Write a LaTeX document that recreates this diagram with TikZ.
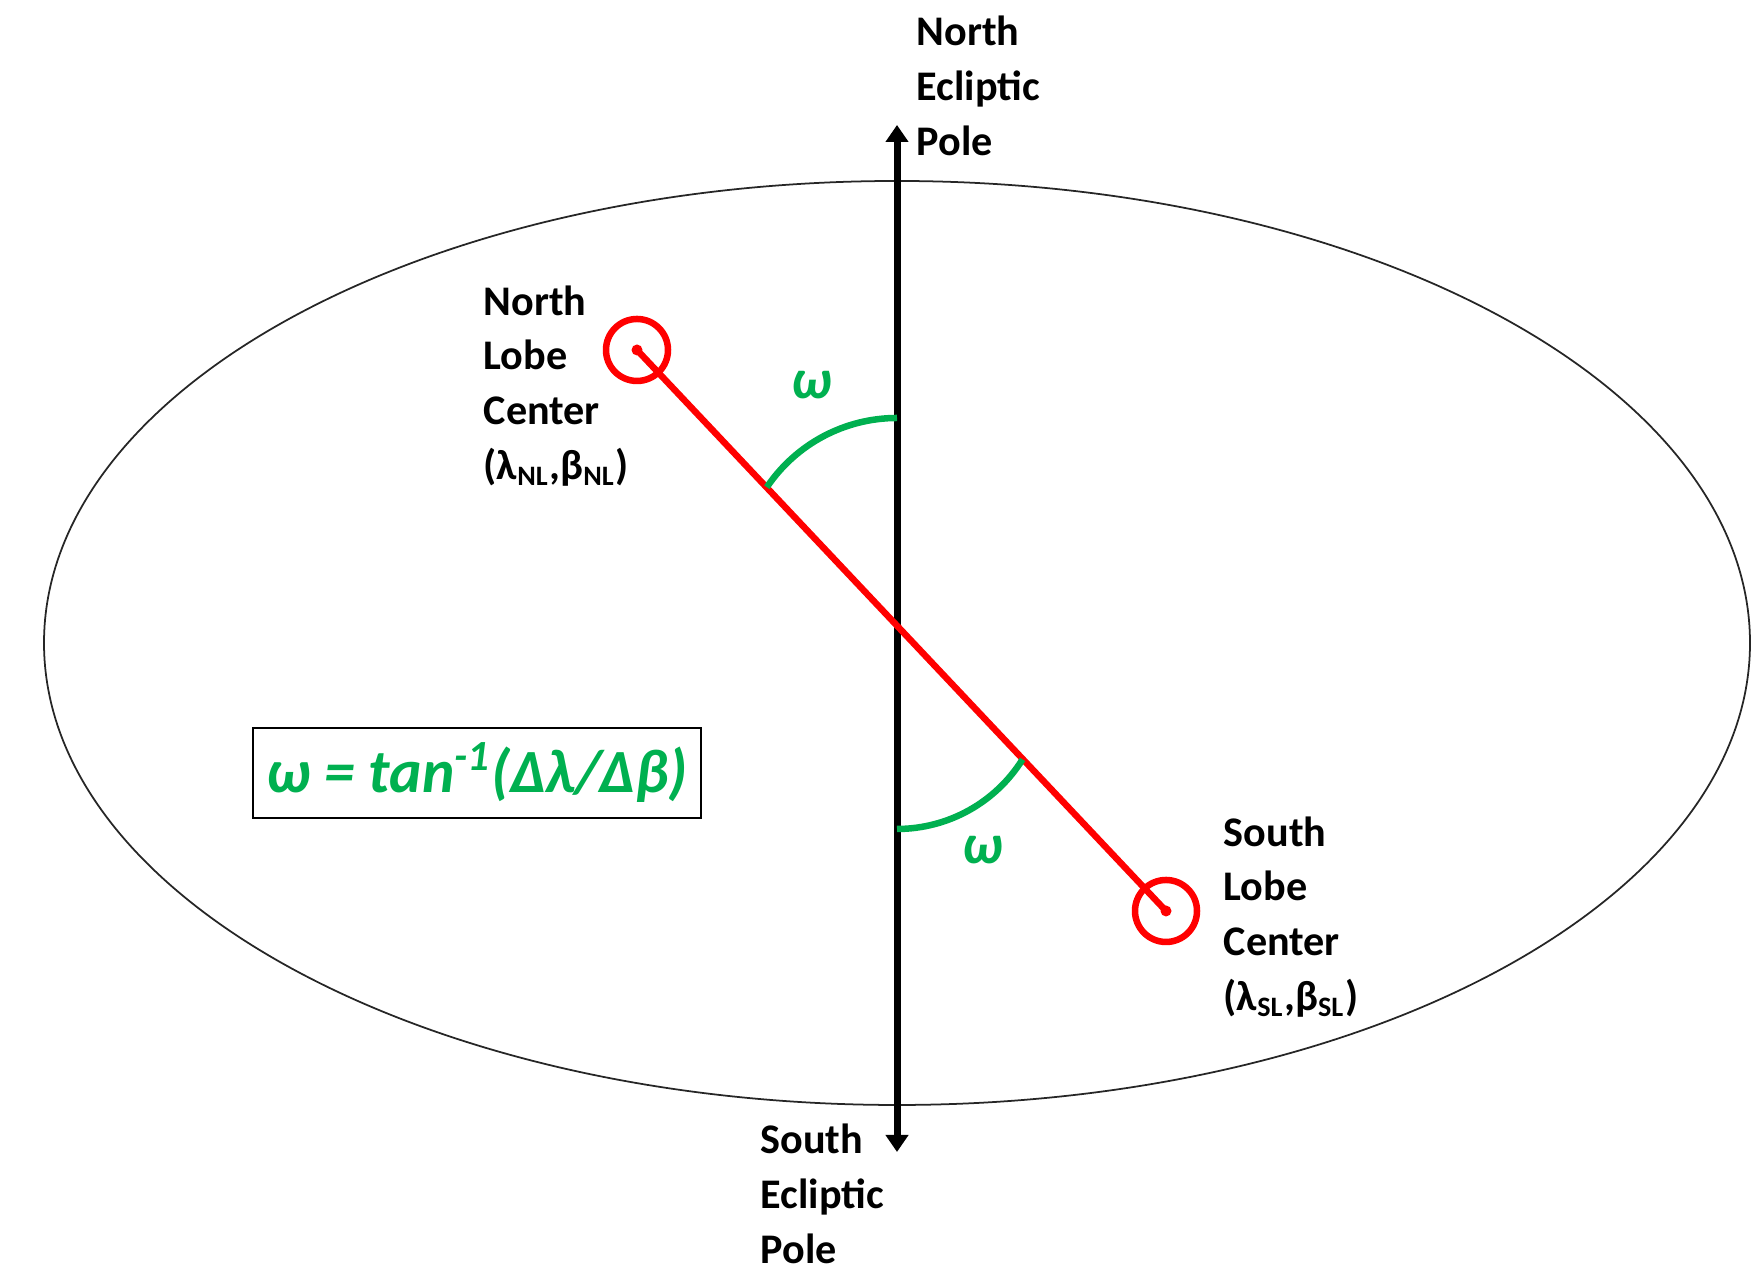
\documentclass[tikz,border=0pt]{standalone}
\usepackage{fontspec}
\setmainfont{Carlito}
\usepackage{xcolor}
\usepackage{tikz}
\usetikzlibrary{positioning, arrows.meta, calc}
\definecolor{lobeRed}{HTML}{FF0000}
\definecolor{omegaGreen}{HTML}{00B050}

\begin{document}
\begin{tikzpicture}[
    lbl/.style={font=\fontsize{12}{15.6}\selectfont\bfseries, align=left,
      inner sep=0pt, anchor=west},
    lobe/.style={draw=lobeRed, line width=0.065cm},
    ang/.style={draw=omegaGreen, line width=0.065cm},
    angtxt/.style={text=omegaGreen, font=\fontsize{16}{18}\selectfont\bfseries\itshape},
  ]
    \useasboundingbox (0,0) rectangle (17.52,12.80);
    % sky ellipse
    \draw[black!85, line width=0.5pt] (8.97,6.37)
      ellipse [x radius=8.53, y radius=4.62];
    % ecliptic pole axis
    \coordinate (SEP) at (8.97,1.28);
    \coordinate (NEP) at (8.97,11.55);
    \draw[{Triangle[width=0.22cm,length=0.17cm]}-{Triangle[width=0.22cm,length=0.17cm]},
      line width=0.07cm] (SEP) -- (NEP);
    \node[lbl] (nepTxt) at (9.16,11.94) {North\\Ecliptic\\Pole};
    \node[lbl] (sepTxt) at (7.60,0.86) {South\\Ecliptic\\Pole};
    % lobe centers and the line joining them
    \coordinate (NL) at (6.37,9.30);
    \coordinate (SL) at (11.66,3.69);
    \draw[lobe] (NL) -- (SL);
    \draw[lobe] (NL) circle (0.31);
    \draw[lobe] (SL) circle (0.31);
    \fill[lobeRed] (NL) circle (0.055);
    \fill[lobeRed] (SL) circle (0.055);
    \node[lbl] (nlTxt) at (4.83,8.94)
      {North\\Lobe\\Center\\(λ\textsubscript{NL},β\textsubscript{NL})};
    \node[lbl] (slTxt) at (12.23,3.63)
      {South\\Lobe\\Center\\(λ\textsubscript{SL},β\textsubscript{SL})};
    % position angle arcs
    \coordinate (upArc) at (8.97,8.62);
    \coordinate (lowArc) at (8.97,4.51);
    \draw[ang] (upArc) arc [start angle=90, end angle=146, radius=1.57];
    \draw[ang] (lowArc) arc [start angle=270, end angle=328, radius=1.48];
    \node[angtxt] (upOmega) at (8.12,8.95) {ω};
    \node[angtxt] (lowOmega) at (9.83,4.30) {ω};
    % formula box
    \node[draw, line width=0.6pt, minimum width=4.48cm, minimum height=0.90cm,
      text=omegaGreen, font=\fontsize{17.5}{20}\selectfont\bfseries\itshape]
      (formula) at (4.77,5.07) {ω = tan\textsuperscript{-1}(Δλ/Δβ)};
\end{tikzpicture}
\end{document}
